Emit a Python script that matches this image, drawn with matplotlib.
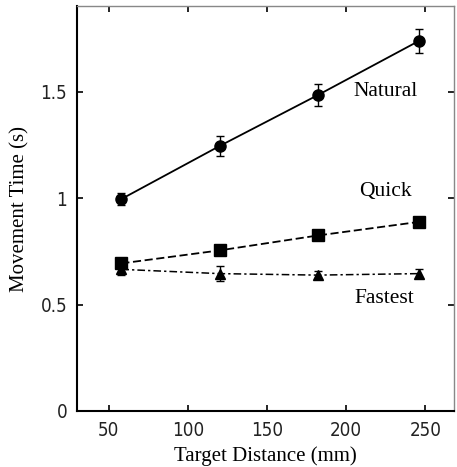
import matplotlib
matplotlib.use("Agg")
import matplotlib.pyplot as plt
from matplotlib.font_manager import FontProperties

distance = [58, 120, 182, 246]
natural = [0.995, 1.244, 1.483, 1.738]
natural_err = [0.03, 0.045, 0.05, 0.055]
quick = [0.693, 0.754, 0.824, 0.888]
quick_err = [0.01, 0.01, 0.01, 0.01]
fastest = [0.665, 0.645, 0.638, 0.645]
fastest_err = [0.025, 0.035, 0.02, 0.02]

labels = ["Natural", "Quick", "Fastest"]
label_pos = [(225, 1.5), (225, 1.03), (224, 0.527)]

xticks = [50, 100, 150, 200, 250]
yticks = [0, 0.5, 1, 1.5]
ytick_labels = ["0", "0.5", "1", "1.5"]

W, H = 457, 467
fig = plt.figure(figsize=(W / 100, H / 100), dpi=100)
ax = fig.add_axes([77 / W, (H - 411) / H, (454 - 77) / W, (411 - 6.3) / H])

ax.errorbar(distance, natural, yerr=natural_err, fmt='o-', color='black',
            ms=8, lw=1.3, capsize=3, elinewidth=1)
ax.errorbar(distance, quick, yerr=quick_err, fmt='s--', color='black',
            ms=8, lw=1.3, capsize=3, elinewidth=1, dashes=(4.5, 2))
ax.errorbar(distance, fastest, yerr=fastest_err, fmt='^-.', color='black',
            ms=7, lw=1.1, capsize=3, elinewidth=1, dashes=(5, 2, 1.5, 2))

serif = ['Liberation Serif', 'DejaVu Serif']
for lab, (x, y) in zip(labels, label_pos):
    ax.text(x, y, lab, ha='center', va='center', fontsize=15.5, family=serif)

ax.set_xlim(30, 268)
ax.set_ylim(0, 1.9)
ax.set_xticks(xticks)
ax.set_yticks(yticks)
ax.set_yticklabels(ytick_labels)
ax.tick_params(direction='in', length=4, width=1.2, top=True, right=True,
               pad=7)
tick_fp = FontProperties(family='DejaVu Sans', stretch='condensed', size=13.5)
for t in ax.get_xticklabels() + ax.get_yticklabels():
    t.set_fontproperties(tick_fp)
    t.set_color('#222222')

for s in ['left', 'bottom']:
    ax.spines[s].set_linewidth(1.5)
    ax.spines[s].set_color('black')
for s in ['top', 'right']:
    ax.spines[s].set_linewidth(1.0)
    ax.spines[s].set_color('#888888')

ax.set_xlabel('Target Distance (mm)', fontsize=15, family=serif, labelpad=5)
ax.set_ylabel('Movement Time (s)', fontsize=15, family=serif, labelpad=8)

fig.savefig('out.png', dpi=100)
